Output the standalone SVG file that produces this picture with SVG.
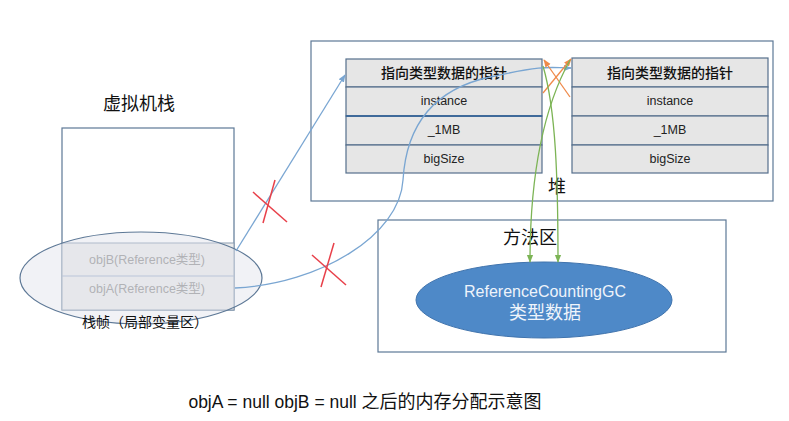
<svg xmlns="http://www.w3.org/2000/svg" width="789" height="421" viewBox="0 0 789 421">
<style>
text{font-family:"Liberation Sans","Noto Sans CJK SC",sans-serif;text-anchor:middle;dominant-baseline:central}
.box{fill:#fff;stroke:#5d7896;stroke-width:1.2}
.cell{fill:#e6e6e6;stroke:#556f8c;stroke-width:1.2}
.t{font-size:12.5px;fill:#222}
.h{font-size:14px;fill:#111;font-weight:500}
.lbl{font-size:18px;fill:#111}
.blue{fill:none;stroke:#7aa6d2;stroke-width:1.3}
.or{fill:none;stroke:#ef8a4a;stroke-width:1.3}
.gr{fill:none;stroke:#7cb455;stroke-width:1.3}
.red{stroke:#e8404a;stroke-width:1.5}
</style>
<defs>
<marker id="ab" viewBox="0 0 10 10" refX="9" refY="5" markerWidth="6" markerHeight="6" orient="auto"><path d="M0,1 L10,5 L0,9z" fill="#7aa6d2"/></marker>
<marker id="ao" viewBox="0 0 10 10" refX="9" refY="5" markerWidth="6" markerHeight="6" orient="auto"><path d="M0,1 L10,5 L0,9z" fill="#ef8a4a"/></marker>
<marker id="ag" viewBox="0 0 10 10" refX="9" refY="5" markerWidth="6" markerHeight="6" orient="auto"><path d="M0,1 L10,5 L0,9z" fill="#7cb455"/></marker>
</defs>
<rect width="789" height="421" fill="#fff"/>
<g id="heap">
<rect class="box" x="311" y="41" width="462" height="160"/>
<text class="lbl" x="557" y="187">堆</text>
</g>
<g id="objLeft">
<rect class="cell" x="346" y="59" width="196" height="28"/>
<rect class="cell" x="346" y="87" width="196" height="29"/>
<rect class="cell" x="346" y="116" width="196" height="29"/>
<rect class="cell" x="346" y="145" width="196" height="28"/>
<line x1="346" y1="116" x2="542" y2="116" stroke="#3f6a9a" stroke-width="2"/>
<text class="h" x="444" y="73">指向类型数据的指针</text>
<text class="t" x="444" y="101">instance</text>
<text class="t" x="444" y="130">_1MB</text>
<text class="t" x="444" y="159">bigSize</text>
</g>
<g id="objRight">
<rect class="cell" x="572" y="58" width="196" height="29"/>
<rect class="cell" x="572" y="87" width="196" height="29"/>
<rect class="cell" x="572" y="116" width="196" height="29"/>
<rect class="cell" x="572" y="145" width="196" height="28"/>
<text class="h" x="670" y="73">指向类型数据的指针</text>
<text class="t" x="670" y="101">instance</text>
<text class="t" x="670" y="130">_1MB</text>
<text class="t" x="670" y="159">bigSize</text>
</g>
<g id="methodArea">
<rect class="box" x="378" y="220" width="348" height="132"/>
<text class="lbl" x="530" y="238">方法区</text>
<ellipse cx="544" cy="300" rx="128" ry="38" fill="#4e89c8" stroke="#3f73ad" stroke-width="1"/>
<text x="545" y="291" font-size="16" fill="#eef4fb">ReferenceCountingGC</text>
<text x="545" y="313" font-size="18" fill="#eef4fb">类型数据</text>
</g>
<g id="stack">
<text class="lbl" x="139" y="104">虚拟机栈</text>
<rect class="box" x="62" y="128" width="172" height="182"/>
<rect x="62" y="243" width="172" height="67" fill="#ececec" stroke="#8a9bb0" stroke-width="1"/>
<line x1="62" y1="276" x2="234" y2="276" stroke="#9aaec8" stroke-width="1"/>
<text x="147" y="260" font-size="12.5" fill="#8a8a8a">objB(Reference类型)</text>
<text x="147" y="289" font-size="12.5" fill="#8a8a8a">objA(Reference类型)</text>
</g>
<g id="frame">
<ellipse cx="141" cy="278" rx="121" ry="46" fill="#dfe3ea" fill-opacity="0.45" stroke="#5d7896" stroke-width="1.2"/>
<text x="145" y="322" font-size="14" fill="#111">栈帧（局部变量区）</text>
</g>
<g id="connectors">
<path class="blue" d="M236,251 L345,75" marker-end="url(#ab)"/>
<path class="blue" d="M235,288 C320,284 400,235 403,180 C406,130 430,90 490,77 S550,68 571,68" marker-end="url(#ab)"/>
<path class="or" d="M570,97 L544,60" marker-end="url(#ao)"/>
<path class="or" d="M543,93 L571,59" marker-end="url(#ao)"/>
<path class="gr" d="M570,60 C545,105 530,170 530,262" marker-end="url(#ag)"/>
<path class="gr" d="M543,66 C556,110 558,180 558,262" marker-end="url(#ag)"/>
<line class="red" x1="275" y1="180" x2="263" y2="223"/>
<line class="red" x1="253" y1="192" x2="287" y2="222"/>
<line class="red" x1="334" y1="243" x2="321" y2="287"/>
<line class="red" x1="312" y1="255" x2="346" y2="285"/>
</g>
<text x="365" y="402" font-size="18" fill="#111"><tspan font-size="17.5">objA = null objB = null </tspan>之后的内存分配示意图</text>
</svg>
